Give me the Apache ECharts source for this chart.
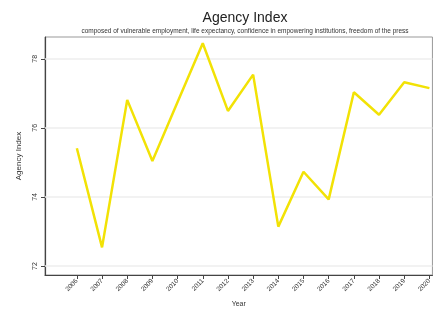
<!DOCTYPE html>
<html>
<head>
<meta charset="utf-8">
<script src="https://cdn.jsdelivr.net/npm/echarts@6/dist/echarts.min.js"></script>
<style>html,body{margin:0;padding:0;background:#fff}#c{width:434px;height:313px}</style>
</head>
<body>
<div id="c"></div>
<script>
var years = [2006,2007,2008,2009,2010,2011,2012,2013,2014,2015,2016,2017,2018,2019,2020];
var agencyIndex = [75.41,72.54,76.81,75.04,76.75,78.45,76.49,77.54,73.14,74.73,73.93,77.03,76.38,77.32,77.15];
var yTicks = [72,74,76,78];
var titleText = 'Agency Index';
var subtitleText = 'composed of vulnerable employment, life expectancy, confidence in empowering institutions, freedom of the press';

var chart = echarts.init(document.getElementById('c'), null, {renderer:'canvas'});
var font = 'Liberation Sans';
chart.setOption({
  animation:false,
  textStyle:{fontFamily:font},
  title:{
    text:titleText, subtext:subtitleText,
    left:240, textAlign:'center', top:6, itemGap:3,
    textStyle:{fontSize:14, fontWeight:'normal', color:'#222', fontFamily:font},
    subtextStyle:{fontSize:6.5, color:'#333', fontFamily:font}
  },
  grid:{left:45, right:0, top:37, bottom:34, show:true, borderColor:'#999', borderWidth:1, containLabel:false},
  xAxis:{
    type:'value', min:2004.735, max:2020.12,
    name:'Year', nameLocation:'middle', nameGap:26,
    nameTextStyle:{fontSize:7, color:'#333'},
    axisLine:{show:true, onZero:false, lineStyle:{color:'#444', width:1.2}},
    axisTick:{show:true, customValues:years, length:4, lineStyle:{color:'#444'}},
    axisLabel:{customValues:years, rotate:45, fontSize:6.5, color:'#333', margin:5, formatter:function(v){return String(v);}},
    splitLine:{show:false}
  },
  yAxis:{
    type:'value', min:71.74, max:78.63,
    name:'Agency Index', nameLocation:'middle', nameGap:22,
    nameTextStyle:{fontSize:8, color:'#333'},
    axisLine:{show:true, onZero:false, lineStyle:{color:'#444', width:1.2}},
    axisTick:{show:true, customValues:yTicks, length:4, lineStyle:{color:'#444'}},
    axisLabel:{customValues:yTicks, rotate:90, fontSize:7, color:'#333', margin:6},
    splitLine:{show:false}
  },
  series:[{
    type:'line',
    data:years.map(function(y,i){return [y, agencyIndex[i]];}),
    symbol:'none',
    lineStyle:{color:'#f2e205', width:2.5},
    markLine:{
      silent:true, symbol:'none', label:{show:false},
      lineStyle:{color:'#eeeeee', width:1.5, type:'solid'},
      data:yTicks.map(function(t){return {yAxis:t};}),
      z:1
    },
    z:3
  }]
});
</script>
</body>
</html>
